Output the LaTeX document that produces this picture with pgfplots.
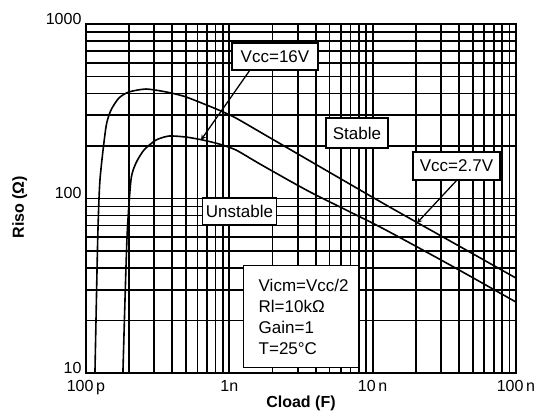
\documentclass[border=0pt]{standalone}
\usepackage{fontspec}
\setmainfont{Liberation Sans}
\usepackage{pgfplots}
\pgfplotsset{compat=1.18}
\begin{document}
\begin{tikzpicture}
\path[use as bounding box] (-86pt,-43pt) rectangle (458pt,373pt);
\begin{axis}[
  scale only axis, width=430pt, height=349pt,
  xmode=log, ymode=log,
  xmin=1e-10, xmax=1e-7, ymin=10, ymax=1000,
  xtick={1e-10,1e-9,1e-8,1e-7},
  xticklabels={100\,p,1n,10\,n,100\,n},
  ytick={10,100,1000},
  yticklabels={10,100,1000},
  major tick length=0pt, minor tick length=0pt,
  grid=both,
  major grid style={black, line width=1.8pt},
  minor grid style={black, line width=1.8pt},
  axis line style={black, line width=1.8pt},
  tick label style={font=\fontsize{16}{18}\selectfont},
  xticklabel style={anchor=north, yshift=-4pt},
  yticklabel style={anchor=base east, xshift=-1pt},
  xlabel={Cload (F)}, ylabel={Riso (Ω)},
  label style={font=\fontsize{16}{18}\selectfont\bfseries},
  x label style={at={(axis description cs:0.5,-0.086)}, anchor=center},
  y label style={at={(axis description cs:-0.154,0.475)}, anchor=center},
  clip=true,
]
\addplot[black, line width=1.6pt, smooth, tension=0.4] coordinates {
(1.155e-10,10) (1.207e-10,57.8) (1.252e-10,127.7) (1.379e-10,257) (1.494e-10,321)
(1.699e-10,377) (1.996e-10,408) (2.623e-10,424) (3.617e-10,408) (4.985e-10,382)
(8.475e-10,321) (1.113e-9,289) (1.637e-9,240.6) (3.657e-9,164) (1.24e-8,91.8)
(3.468e-8,57.1) (1e-7,35)};
\addplot[black, line width=1.6pt, smooth, tension=0.4] coordinates {
(1.81e-10,10) (1.93e-10,57.8) (2.06e-10,127.7) (2.233e-10,159.7) (2.54e-10,189.7)
(3.08e-10,216.3) (3.794e-10,228) (4.985e-10,225) (6.55e-10,216.3) (8.475e-10,205.3)
(1.113e-9,189.7) (1.637e-9,157.6) (3.657e-9,109) (1.126e-8,68.7) (3.468e-8,41.6)
(1e-7,25.5)};
\end{axis}
\begin{scope}[every node/.style={draw=black, line width=1.4pt, fill=white, font=\fontsize{17}{21}\selectfont, inner sep=0pt}]
\draw[line width=1.3pt, -stealth] (164pt,303pt) -- (115pt,233pt);
\draw[line width=1.3pt, -stealth] (371pt,193pt) -- (331pt,150pt);
\node[minimum width=86pt, minimum height=27pt] at (189pt,316.5pt) {Vcc=16V};
\node[minimum width=62pt, minimum height=30pt] at (271pt,240pt) {Stable};
\node[minimum width=87pt, minimum height=28pt] at (370.5pt,207pt) {Vcc=2.7V};
\node[minimum width=74pt, minimum height=27pt] at (153.5pt,161.5pt) {Unstable};
\node[anchor=north west, minimum width=115pt, minimum height=102pt, align=left, inner xsep=15pt, text width=85pt] at (157pt,108pt) {Vicm=Vcc/2\\Rl=10kΩ\\Gain=1\\T=25°C};
\end{scope}
\end{tikzpicture}
\end{document}
